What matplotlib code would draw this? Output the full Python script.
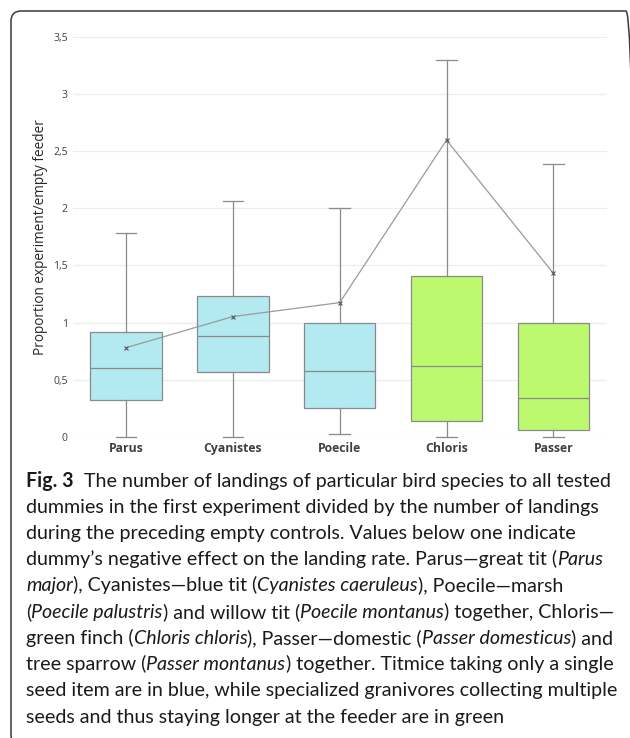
import matplotlib
matplotlib.use("Agg")
import matplotlib.pyplot as plt
from matplotlib.patches import FancyBboxPatch
from matplotlib.font_manager import FontProperties

# ---------------- data ----------------
categories = ["Parus", "Cyanistes", "Poecile", "Chloris", "Passer"]
whisker_low = [0.0, 0.0, 0.026, 0.0, 0.0]
q1 = [0.324, 0.569, 0.251, 0.137, 0.058]
medians = [0.601, 0.881, 0.575, 0.621, 0.338]
q3 = [0.919, 1.231, 1.0, 1.409, 1.0]
whisker_high = [1.787, 2.065, 2.0, 3.30, 2.383]
means = [0.781, 1.053, 1.175, 2.596, 1.432]
groups = ["titmice", "titmice", "titmice", "granivores", "granivores"]
yticks = [0, 0.5, 1, 1.5, 2, 2.5, 3, 3.5]
ytick_labels = ["0", "0,5", "1", "1,5", "2", "2,5", "3", "3,5"]
ylabel = "Proportion experiment/empty feeder"

caption_lines = [
    [("Fig. 3", "b"), ("  The number of landings of particular bird species to all tested", "n")],
    [("dummies in the first experiment divided by the number of landings", "n")],
    [("during the preceding empty controls. Values below one indicate", "n")],
    [("dummy’s negative effect on the landing rate. Parus—great tit (", "n"), ("Parus", "i")],
    [("major", "i"), ("), Cyanistes—blue tit (", "n"), ("Cyanistes caeruleus", "i"), ("), Poecile—marsh", "n")],
    [("(", "n"), ("Poecile palustris", "i"), (") and willow tit (", "n"), ("Poecile montanus", "i"),
     (") together, Chloris—", "n")],
    [("green finch (", "n"), ("Chloris chloris", "i"), ("), Passer—domestic (", "n"),
     ("Passer domesticus", "i"), (") and", "n")],
    [("tree sparrow (", "n"), ("Passer montanus", "i"), (") together. Titmice taking only a single", "n")],
    [("seed item are in blue, while specialized granivores collecting multiple", "n")],
    [("seeds and thus staying longer at the feeder are in green", "n")],
]

# ---------------- styling ----------------
W, H = 630, 738
DPI = 100
group_colors = {"titmice": "#b3eaf2", "granivores": "#bdf96e"}
edge = "#8a8a8a"
chart_font = ["Open Sans", "DejaVu Sans"]
cap_font = ["Lato", "DejaVu Sans"]

fig = plt.figure(figsize=(W / DPI, H / DPI), dpi=DPI)
fig.patch.set_facecolor("white")

def px(x, y):
    return x / W, 1 - y / H

# axes placement (pixels)
ax_left, ax_right, ax_top, ax_bottom = 72.7, 606.7, 36.7, 437.0
ax = fig.add_axes([ax_left / W, 1 - ax_bottom / H, (ax_right - ax_left) / W, (ax_bottom - ax_top) / H])

stats = []
for i, c in enumerate(categories):
    stats.append(dict(label=c, whislo=whisker_low[i], q1=q1[i], med=medians[i],
                      q3=q3[i], whishi=whisker_high[i], mean=means[i], fliers=[]))

positions = list(range(len(categories)))
bp = ax.bxp(stats, positions=positions, widths=0.67, capwidths=0.194,
            showmeans=False, showfliers=False, patch_artist=True,
            boxprops=dict(edgecolor=edge, linewidth=0.9),
            medianprops=dict(color=edge, linewidth=0.9),
            whiskerprops=dict(color=edge, linewidth=0.9),
            capprops=dict(color=edge, linewidth=0.9),
            zorder=3)
for patch, g in zip(bp["boxes"], groups):
    patch.set_facecolor(group_colors[g])
for k in ("boxes", "medians", "whiskers", "caps"):
    for a in bp[k]:
        a.set_clip_on(False)

ax.plot(positions, means, color="#9a9a9a", linewidth=0.9, marker="x",
        markersize=3, markeredgecolor="#555555", markeredgewidth=0.8, zorder=5, clip_on=False)

ax.set_xlim(-0.5, len(categories) - 0.5)
ax.set_ylim(0, 3.5)
ax.set_yticks(yticks)
ax.set_yticklabels(ytick_labels, fontsize=7.5, color="#404040", family=chart_font)
ax.set_xticks(positions)
ax.set_xticklabels(categories, fontsize=8.8, fontweight="bold", color="#404040", family=chart_font)
ax.tick_params(axis="both", length=0)
ax.tick_params(axis="y", pad=3.5)
ax.tick_params(axis="x", pad=3.5)
ax.grid(axis="y", color="#ececec", linewidth=0.9, zorder=0)
ax.set_axisbelow(True)
for s in ax.spines.values():
    s.set_visible(False)

fig.text(*px(41, 237), ylabel, rotation=90, ha="center", va="center",
         fontsize=9.8, color="#262626", family=chart_font)

# border (rounded frame, partially outside the image)
fx0, fy0 = px(11, 11)
fx1, fy1 = px(636, 745)
frame = FancyBboxPatch((fx0, fy1), fx1 - fx0, fy0 - fy1,
                       boxstyle="round,pad=0,rounding_size=0.016",
                       transform=fig.transFigure, fill=False,
                       edgecolor="#3a3a3a", linewidth=1.1, clip_on=False,
                       mutation_aspect=W / H)
fig.patches.append(frame)

# ---------------- caption ----------------
fig.canvas.draw()
renderer = fig.canvas.get_renderer()

def props(style, size):
    return FontProperties(family=cap_font, size=size,
                          weight="bold" if style == "b" else "normal",
                          style="italic" if style == "i" else "normal")

def width(s, style, size):
    if not s:
        return 0.0
    w, _, _ = renderer.get_text_width_height_descent("|" + s + "|", props(style, size), ismath=False)
    w0, _, _ = renderer.get_text_width_height_descent("||", props(style, size), ismath=False)
    return w - w0

base = 14.0
natural = max(sum(width(t, st, base) for t, st in line) for line in caption_lines)
cap_size = base * 593.0 / natural

x0 = 26.0
baseline0 = 486.7
spacing = 26.2
for li, line in enumerate(caption_lines):
    x = x0
    yb = baseline0 + li * spacing
    for t, st in line:
        stripped = t.lstrip(" ")
        lead = t[: len(t) - len(stripped)]
        xs = x + width(lead, st, cap_size)
        fig.text(*px(xs, yb), stripped.rstrip(" "), fontproperties=props(st, cap_size),
                 ha="left", va="baseline", color="#1a1a1a")
        x += width(t, st, cap_size)

fig.savefig("out.png", dpi=DPI, facecolor="white")
